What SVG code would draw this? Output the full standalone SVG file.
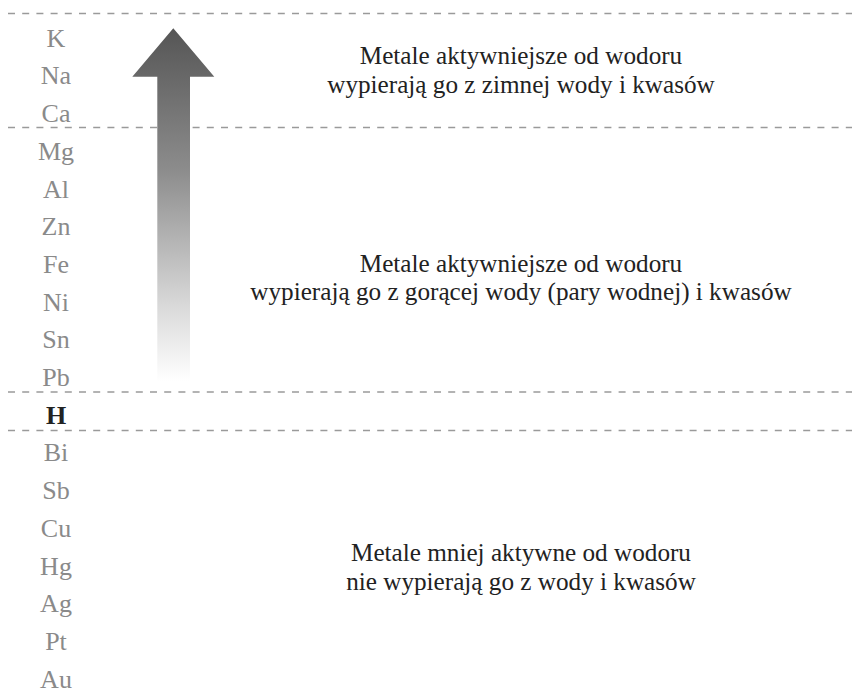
<svg xmlns="http://www.w3.org/2000/svg" width="857" height="692" viewBox="0 0 857 692">
<defs>
<linearGradient id="arrowGrad" gradientUnits="userSpaceOnUse" x1="0" y1="28" x2="0" y2="382">
<stop offset="0" stop-color="#555555"/>
<stop offset="0.4" stop-color="#8c8c8c"/>
<stop offset="0.8" stop-color="#dcdcdc"/>
<stop offset="1" stop-color="#ffffff"/>
</linearGradient>
<style>
.div{stroke:#9a9a9a;stroke-width:1.3;stroke-dasharray:7 7.2;fill:none}
.el{font-family:"Liberation Serif","Times New Roman",serif;font-size:26px;fill:#8a8a8a;text-anchor:middle}
.h{fill:#222222;font-weight:bold}
.desc{font-family:"Liberation Serif","Times New Roman",serif;font-size:25.2px;fill:#222222;text-anchor:middle}
</style>
</defs>
<rect width="857" height="692" fill="#ffffff"/>
<g id="dividers">
<line class="div" x1="8" y1="13.5" x2="852" y2="13.5"/>
<line class="div" x1="8" y1="127.5" x2="852" y2="127.5"/>
<line class="div" x1="8" y1="392" x2="852" y2="392"/>
<line class="div" x1="8" y1="430.5" x2="852" y2="430.5"/>
</g>
<g id="arrow">
<path d="M173.3 28.3 L214.3 76.7 L190 76.7 L190 382 L157.3 382 L157.3 76.7 L132.3 76.7 Z" fill="url(#arrowGrad)"/>
</g>
<g id="elements">
<text class="el" x="56" y="46.7">K</text>
<text class="el" x="56" y="84.4">Na</text>
<text class="el" x="56" y="122.1">Ca</text>
<text class="el" x="56" y="159.8">Mg</text>
<text class="el" x="56" y="197.5">Al</text>
<text class="el" x="56" y="235.2">Zn</text>
<text class="el" x="56" y="272.9">Fe</text>
<text class="el" x="56" y="310.6">Ni</text>
<text class="el" x="56" y="348.3">Sn</text>
<text class="el" x="56" y="386">Pb</text>
<text class="el h" x="56" y="423.7">H</text>
<text class="el" x="56" y="461.4">Bi</text>
<text class="el" x="56" y="499.1">Sb</text>
<text class="el" x="56" y="536.8">Cu</text>
<text class="el" x="56" y="574.5">Hg</text>
<text class="el" x="56" y="612.2">Ag</text>
<text class="el" x="56" y="649.9">Pt</text>
<text class="el" x="56" y="687.6">Au</text>
</g>
<g id="desc-top">
<text class="desc" x="521" y="64">Metale aktywniejsze od wodoru</text>
<text class="desc" x="521" y="93">wypierają go z zimnej wody i kwasów</text>
</g>
<g id="desc-middle">
<text class="desc" x="521" y="272">Metale aktywniejsze od wodoru</text>
<text class="desc" x="521" y="300">wypierają go z gorącej wody (pary wodnej) i kwasów</text>
</g>
<g id="desc-bottom">
<text class="desc" x="521" y="561">Metale mniej aktywne od wodoru</text>
<text class="desc" x="521" y="590">nie wypierają go z wody i kwasów</text>
</g>
</svg>
